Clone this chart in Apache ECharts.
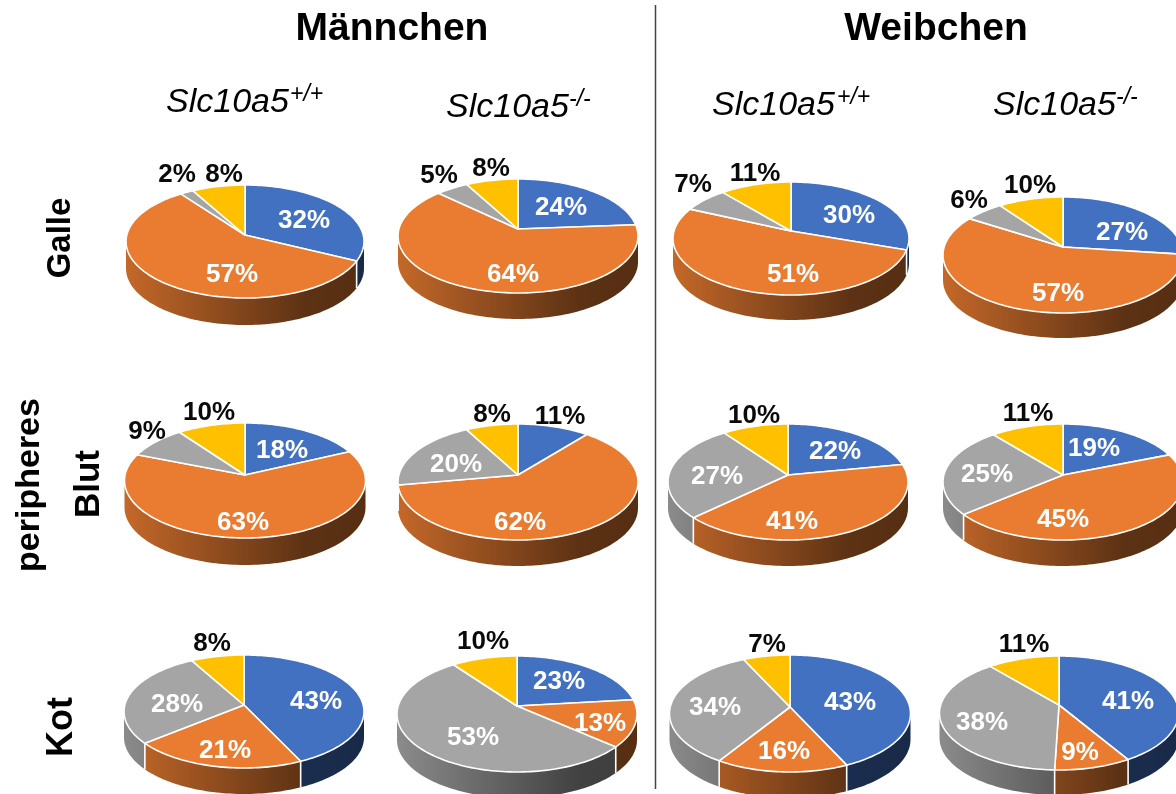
<!DOCTYPE html>
<html><head><meta charset="utf-8">
<style>html,body{margin:0;padding:0;background:#fff;overflow:hidden}#c{width:1176px;height:794px}</style>
<script src="https://cdn.jsdelivr.net/npm/echarts@6/dist/echarts.min.js"></script>
</head><body><div id="c"></div>
<script>
// ---- data (percent labels), one row per pie: blue, orange, grey, yellow
const groups = ['Männchen', 'Weibchen'];
const genotypes = ['Slc10a5', 'Slc10a5', 'Slc10a5', 'Slc10a5'];
const genotypeSup = ['+/+', '-/-', '+/+', '-/-'];
const galle = [[32, 57, 2, 8], [24, 64, 5, 8], [30, 51, 7, 11], [27, 57, 6, 10]];
const blut  = [[18, 63, 9, 10], [11, 62, 20, 8], [22, 41, 27, 10], [19, 45, 25, 11]];
const kot   = [[43, 21, 28, 8], [23, 13, 53, 10], [43, 16, 34, 7], [41, 9, 38, 11]];

// ---- layout
const FONT = '"Liberation Sans", Arial, sans-serif';
const baseColors = [[67,113,194],[233,124,49],[165,165,165],[255,192,0]];
// apex x, apex y, top, bottom, half width, wall depth
const pieBoxes = [
  [245,235,185,298,119,27],[518,229,179,293,120,26],[791,231,182,295,118,25],[1063,247,197,313,120,25],
  [245,475,423,538,120.5,27],[518,475,424,540,120,26],[788,475,424,540,120,26],[1063,475,424,540,120,26],
  [244,705,655,768,120,26],[517,706,656,772,120,26],[790,707,655,772,120.5,26],[1059,705,656,770,119.5,25]
];
// label centres relative to the pie apex (blue, orange, grey, yellow)
const labelOffsets = [
  [[59,-16],[-13,38],[-68,-62],[-21,-62]],[[43,-23],[-5,44],[-79,-55],[-27,-62]],[[58,-17],[2,42],[-98,-48],[-36,-59]],[[59,-16],[-5,45],[-94,-48],[-33,-63]],
  [[37,-26],[-2,46],[-98,-45],[-36,-64]],[[42,-60],[2,46],[-62,-12],[-26,-62]],[[47,-25],[4,45],[-71,0],[-34,-61]],[[31,-28],[0,43],[-76,-2],[-35,-63]],
  [[72,-5],[-19,44],[-67,-2],[-32,-63]],[[42,-26],[83,16],[-44,30],[-34,-66]],[[60,-6],[-6,43],[-75,-1],[-23,-64]],[[69,-5],[21,46],[-77,16],[-35,-62]]
];
const LABEL_DY = 2;

const allPies = galle.concat(blut, kot);

function renderSlice(params, api) {
  const box = pieBoxes[params.seriesIndex];
  const [ax, ay, top, bot, hw, depth] = box;
  const up = ay - top, lo = bot - ay;
  const k = (lo - up) / (lo + up), B = up * (1 + k), R = hw * Math.sqrt(1 - k * k);
  const val = api.value(0), s0 = api.value(1), s1 = api.value(2), idx = api.value(3);
  const proj = t => {
    const a = t * 2 * Math.PI, s = Math.sin(a), c = Math.cos(a), w = 1 + k * c;
    return [ax + R * s / w, ay - B * c / w];
  };
  const arc = (a, b) => {
    const n = Math.max(2, Math.ceil((b - a) * 240)), pts = [];
    for (let i = 0; i <= n; i++) pts.push(proj(a + (b - a) * i / n));
    return pts;
  };
  const base = baseColors[idx];
  const rgb = f => 'rgb(' + base.map(v => Math.round(v * f)).join(',') + ')';
  const children = [];
  // visible front part of the wall
  const ta = Math.acos(-k) / (2 * Math.PI), tb = 1 - ta;
  const w0 = Math.max(s0, ta), w1 = Math.min(s1, tb);
  if (w1 > w0) {
    const upper = arc(w0, w1);
    const lower = upper.slice().reverse().map(p => [p[0], p[1] + depth]);
    children.push({
      type: 'polygon', z2: 1, shape: { points: upper.concat(lower) },
      style: { fill: { type: 'linear', global: true, x: ax - hw, y: 0, x2: ax + hw, y2: 0,
        colorStops: [{ offset: 0, color: rgb(0.84) }, { offset: 0.75, color: rgb(0.40) }, { offset: 1, color: rgb(0.37) }] } }
    });
    if (s0 > ta && s0 < tb) {
      const p = proj(s0);
      children.push({ type: 'line', z2: 2, shape: { x1: p[0], y1: p[1], x2: p[0], y2: p[1] + depth },
        style: { stroke: '#fff', lineWidth: 1.6 } });
    }
  }
  // top face
  children.push({
    type: 'polygon', z2: 3, shape: { points: [[ax, ay]].concat(arc(s0, s1)) },
    style: { fill: rgb(1), stroke: '#fff', lineWidth: 1.6, lineJoin: 'round' }
  });
  // label
  const off = labelOffsets[params.seriesIndex][idx];
  const outside = off[1] < -40 && idx >= 2 || (off[1] < -55);
  children.push({
    type: 'text', z2: 9, x: ax + off[0], y: ay + off[1] + LABEL_DY,
    style: { text: val + '%', fontFamily: FONT, fontWeight: 'bold', fontSize: 26,
      fill: outside ? '#0a0a0a' : '#fff', align: 'center', verticalAlign: 'middle' }
  });
  return { type: 'group', children };
}

const series = allPies.map(vals => {
  const total = vals.reduce((a, b) => a + b, 0);
  let cum = 0;
  const data = vals.map((v, i) => { const r = [v, cum / total, (cum + v) / total, i]; cum += v; return r; });
  return { type: 'custom', coordinateSystem: 'none', silent: true, animation: false,
           renderItem: renderSlice, data };
});

const txt = (text, x, y, size, extra) => ({
  type: 'text', x, y, silent: true,
  style: Object.assign({ text, fontFamily: FONT, fontSize: size, fill: '#000', align: 'center', verticalAlign: 'middle' }, extra || {})
});
const vtxt = (text, x, y, size) => Object.assign(txt(text, 0, 0, size, { fontWeight: 'bold' }), { x, y, rotation: Math.PI / 2 });

const subX = [166, 446, 712, 993], subY = [103, 108, 106, 106], subSize = [34, 34, 34, 34];
const subW = [124, 123, 125, 123];
const graphics = [
  txt(groups[0], 392, 29, 39, { fontWeight: 'bold' }),
  txt(groups[1], 936, 29, 39, { fontWeight: 'bold' }),
  vtxt('Galle', 61, 238, 33),
  vtxt('peripheres', 30, 485, 34),
  vtxt('Blut', 89, 484, 35),
  vtxt('Kot', 62, 727, 36),
  { type: 'line', silent: true, shape: { x1: 655.5, y1: 5, x2: 655.5, y2: 789 }, style: { stroke: '#444', lineWidth: 1.5 } }
];
genotypes.forEach((g, i) => {
  graphics.push(txt(g, subX[i], subY[i], subSize[i], { align: 'left', fontStyle: 'italic' }));
  graphics.push(txt(genotypeSup[i], subX[i] + subW[i], subY[i] - 8, 23, { align: 'left', fontStyle: 'italic' }));
});

const chart = echarts.init(document.getElementById('c'), null, { renderer: 'canvas', width: 1176, height: 794 });
chart.setOption({ animation: false, backgroundColor: '#fff', series, graphic: { elements: graphics } });
</script></body></html>
